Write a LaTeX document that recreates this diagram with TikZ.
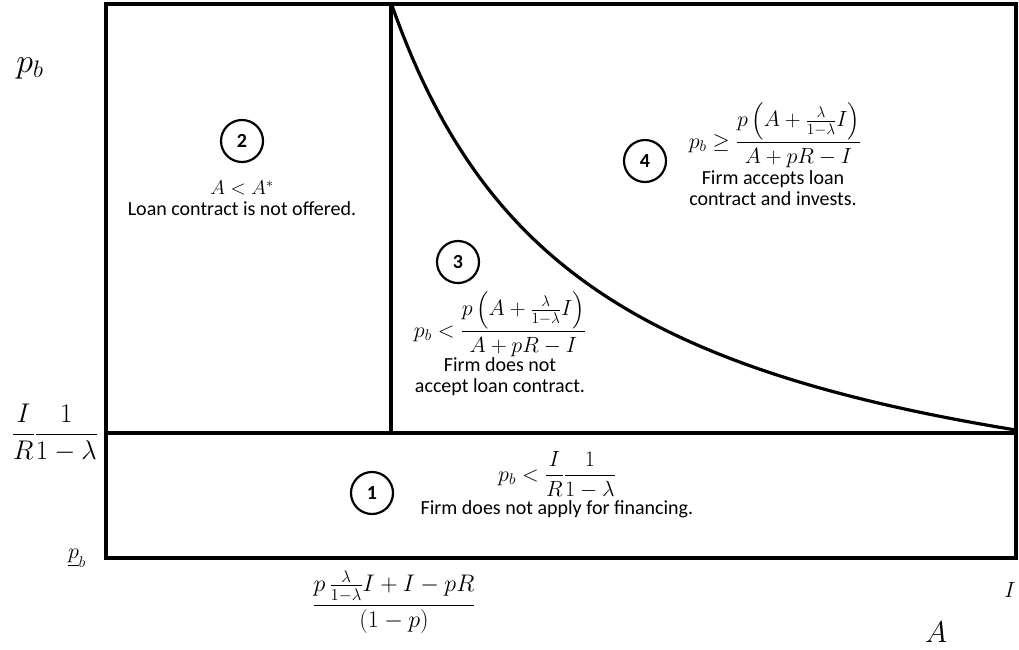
\documentclass[tikz,border=0pt]{standalone}
\usepackage{fix-cm}
\usepackage{amsmath}
\usepackage{fontspec}
\setmainfont{Carlito}
\begin{document}
\begin{tikzpicture}[x=1pt,y=-1pt,
  edge/.style={line width=3.2pt},
  num/.style={circle,draw,line width=2.2pt,minimum size=42pt,inner sep=0pt,font=\fontsize{20}{22}\selectfont\bfseries},
  lbl/.style={align=center,inner sep=0pt,font=\fontsize{20}{21}\selectfont},
  mth/.style={inner sep=0pt,font=\fontsize{22}{24}\selectfont},
  axlbl/.style={inner sep=0pt}]
\useasboundingbox (0,0) rectangle (1019,649);
\coordinate (TL) at (106,4);
\coordinate (BR) at (1016,558);
\coordinate (VT) at (391,4);
\coordinate (VB) at (391,433);
\coordinate (HL) at (106,433);
\coordinate (HR) at (1016,433);
\draw[edge] (TL) rectangle (BR);
\draw[edge] (HL) -- (HR);
\draw[edge] (VT) -- (VB);
\draw[edge,line join=round] (VT) -- plot[domain=392:1015,samples=120] (\x,{564-110/((\x-195)/1000)}) -- (HR);
% circles
\node[num] (c1) at (372,493) {1};
\node[num] (c2) at (242,141) {2};
\node[num] (c3) at (458,262) {3};
\node[num] (c4) at (645,161) {4};
% region 2
\node[lbl] (t2) at (242,198) {$A<A^{*}$\\Loan contract is not offered.};
% region 4
\node[mth,anchor=base] (f4) at (775,148) {$p_b\geq\dfrac{p\left(A+\frac{\lambda}{1-\lambda}I\right)}{A+pR-I}$};
\node[lbl] (t4) at (773,188) {Firm accepts loan\\contract and invests.};
% region 3
\node[mth,anchor=base] (f3) at (500,337) {$p_b<\dfrac{p\left(A+\frac{\lambda}{1-\lambda}I\right)}{A+pR-I}$};
\node[lbl] (t3) at (500,377) {Firm does not\\accept loan contract.};
% region 1
\node[mth,anchor=base] (f1) at (557,481) {$p_b<\dfrac{I}{R}\dfrac{1}{1-\lambda}$};
\node[lbl] (t1) at (557,509) {Firm does not apply for financing.};
% axis labels
\node[axlbl,font=\fontsize{34}{36}\selectfont] (pb) at (30,68) {$p_b$};
\node[axlbl,font=\fontsize{27}{30}\selectfont,anchor=base] (pth) at (55,441) {$\dfrac{I}{R}\dfrac{1}{1-\lambda}$};
\node[axlbl,font=\fontsize{22}{24}\selectfont] (plow) at (77,558) {$\underline{p}_b$};
\node[axlbl,font=\fontsize{24}{26}\selectfont,anchor=base] (astar) at (394,611) {$\dfrac{p\,\frac{\lambda}{1-\lambda}I+I-pR}{(1-p)}$};
\node[axlbl,font=\fontsize{22}{24}\selectfont] (imax) at (1010,590) {$I$};
\node[axlbl,font=\fontsize{30}{32}\selectfont] (aax) at (936,632) {$A$};
\end{tikzpicture}
\end{document}
